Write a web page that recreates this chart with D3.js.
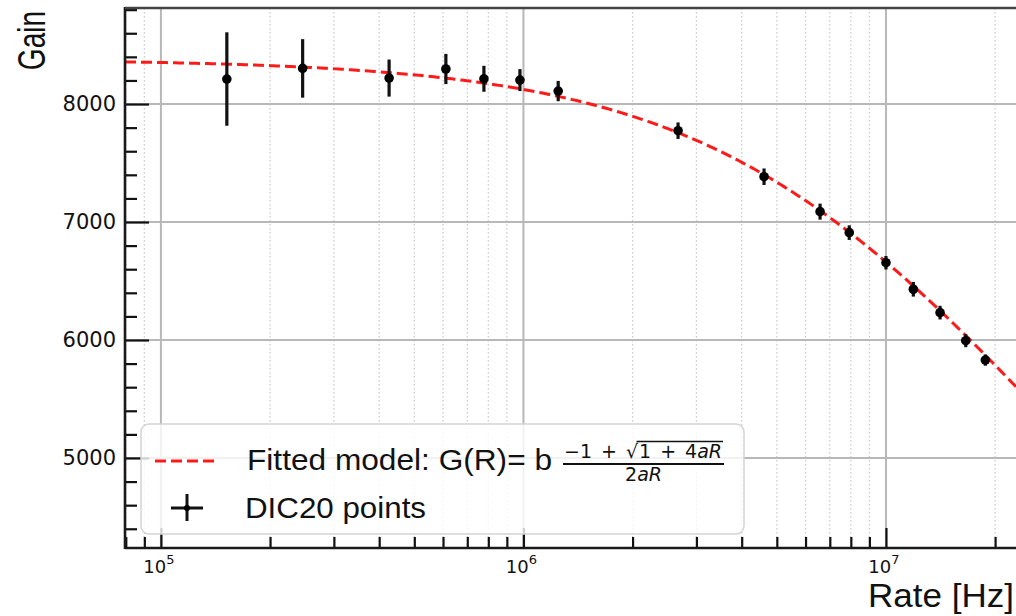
<!DOCTYPE html>
<html lang="en">

<head>
	<meta charset="UTF-8">
	<title>gain vs rate</title>
	<script type="text/javascript" src="https://cdn.jsdelivr.net/npm/d3@7/dist/d3.min.js" charset="UTF-8"></script>
	<style>
		body { margin: 0; background: #fff; }
		svg { display: block; }
	</style>
</head>

<body>
	<script type="text/javascript">
	// DIC20 measured points
	let rates = [1.52e5, 2.46e5, 4.26e5, 6.11e5, 7.78e5, 9.78e5, 1.247e6, 2.67e6, 4.61e6, 6.58e6, 7.92e6, 1.0e7, 1.19e7, 1.41e7, 1.66e7, 1.88e7]
	let gains = [8212, 8302, 8220, 8297, 8214, 8203, 8110, 7774, 7384, 7088, 6910, 6655, 6430, 6232, 5994, 5830]
	let gainErrors = [396, 248, 157, 128, 110, 93, 86, 70, 70, 68, 62, 57, 62, 58, 55, 48]

	// fitted model parameters, G(R) = b (-1 + sqrt(1 + 4aR)) / (2aR)
	let fitA = 3.243e-8
	let fitB = 8379

	let yMajorTicks = [5000, 6000, 7000, 8000]
	let xMajorTicks = [1e5, 1e6, 1e7]
	let xTickExponents = ['5', '6', '7']
	let xDomain = [7.96e4, 2.284e7]
	let yDomain = [4237, 8814]

	let width = 1016,
		height = 616,
		pLeft = 125,
		pTop = 8,
		pRight = 1016,
		pBottom = 548

	let svg = d3.select('body').append('svg')
		.attr('width', width)
		.attr('height', height)

	let x = d3.scaleLog().domain(xDomain).range([pLeft, pRight])
	let y = d3.scaleLinear().domain(yDomain).range([pBottom, pTop])

	let xMinor = x.ticks().filter(v => xMajorTicks.indexOf(v) < 0 && v >= xDomain[0] && v <= xDomain[1])
	let yMinor = d3.range(4400, 8801, 200).filter(v => yMajorTicks.indexOf(v) < 0)

	// grid
	let grid = svg.append('g')
	grid.selectAll('.xminor').data(xMinor).enter().append('line')
		.attr('x1', d => x(d)).attr('x2', d => x(d))
		.attr('y1', pTop).attr('y2', pBottom)
		.attr('stroke', '#c8c8c8').attr('stroke-width', 1.2)
		.attr('stroke-dasharray', '1.5,2.5')
	grid.selectAll('.xmajor').data(xMajorTicks).enter().append('line')
		.attr('x1', d => x(d)).attr('x2', d => x(d))
		.attr('y1', pTop).attr('y2', pBottom)
		.attr('stroke', '#b8b8b8').attr('stroke-width', 2)
	grid.selectAll('.ymajor').data(yMajorTicks).enter().append('line')
		.attr('x1', pLeft).attr('x2', pRight)
		.attr('y1', d => y(d)).attr('y2', d => y(d))
		.attr('stroke', '#b8b8b8').attr('stroke-width', 2)

	// fitted curve
	let model = r => fitB * (-1 + Math.sqrt(1 + 4 * fitA * r)) / (2 * fitA * r)
	let curveRates = d3.range(0, 301).map(i => x.invert(pLeft + i * (pRight - pLeft) / 300))
	let line = d3.line()
		.x(d => x(d))
		.y(d => y(model(d)))

	svg.append('path')
		.attr('d', line(curveRates))
		.attr('fill', 'none')
		.attr('stroke', '#ff1a1a')
		.attr('stroke-width', 3)
		.attr('stroke-dasharray', '11,5')

	// points with error bars
	let pts = svg.append('g').selectAll('g')
		.data(rates.map((r, i) => ({ r: r, g: gains[i], e: gainErrors[i] })))
		.enter().append('g')
	pts.append('line')
		.attr('x1', d => x(d.r)).attr('x2', d => x(d.r))
		.attr('y1', d => y(d.g - d.e)).attr('y2', d => y(d.g + d.e))
		.attr('stroke', '#111').attr('stroke-width', 3.2)
	pts.append('circle')
		.attr('cx', d => x(d.r)).attr('cy', d => y(d.g))
		.attr('r', 4.8)
		.attr('fill', '#000')

	// axes
	let xAxis = svg.append('g')
		.attr('transform', 'translate(0,' + pBottom + ')')
		.call(d3.axisBottom(x).tickValues(xMajorTicks).tickSize(-20).tickFormat(''))
	let xAxisMinor = svg.append('g')
		.attr('transform', 'translate(0,' + pBottom + ')')
		.call(d3.axisBottom(x).tickValues(xMinor).tickSize(-11).tickFormat(''))
	let yAxis = svg.append('g')
		.attr('transform', 'translate(' + pLeft + ',0)')
		.call(d3.axisLeft(y).tickValues(yMajorTicks).tickSize(-24).tickPadding(9).tickFormat(d3.format('d')))
	let yAxisMinor = svg.append('g')
		.attr('transform', 'translate(' + pLeft + ',0)')
		.call(d3.axisLeft(y).tickValues(yMinor).tickSize(-12).tickFormat(''))

	svg.selectAll('.domain').remove()
	svg.selectAll('.tick line').attr('stroke', '#111').attr('stroke-width', 2.2)
	yAxis.selectAll('text')
		.attr('font-family', 'DejaVu Sans')
		.attr('font-size', 21)
		.attr('fill', '#111')

	let xLabels = svg.append('g')
		.selectAll('text')
		.data(xMajorTicks)
		.enter().append('text')
		.attr('x', d => x(d) - 2)
		.attr('y', 573)
		.attr('text-anchor', 'middle')
		.attr('font-family', 'DejaVu Sans')
		.attr('font-size', 18)
		.attr('fill', '#111')
	xLabels.append('tspan').text('10')
	xLabels.append('tspan')
		.attr('dy', -9)
		.attr('font-size', 13)
		.text((d, i) => xTickExponents[i])

	// spines
	svg.append('line').attr('x1', pLeft).attr('x2', pLeft).attr('y1', pTop - 1).attr('y2', pBottom + 1)
		.attr('stroke', '#1a1a1a').attr('stroke-width', 2.6)
	svg.append('line').attr('x1', pLeft).attr('x2', pRight + 2).attr('y1', pBottom).attr('y2', pBottom)
		.attr('stroke', '#1a1a1a').attr('stroke-width', 2.6)
	svg.append('line').attr('x1', pLeft).attr('x2', pRight + 2).attr('y1', pTop).attr('y2', pTop)
		.attr('stroke', '#444').attr('stroke-width', 2.6)

	// axis titles
	svg.append('text')
		.attr('transform', 'translate(45,11) rotate(-90) scale(1,1.36)')
		.attr('text-anchor', 'end')
		.attr('font-family', 'Liberation Sans, Arial, sans-serif')
		.attr('font-size', 28)
		.attr('fill', '#111')
		.text('Gain')
	svg.append('text')
		.attr('x', 1014)
		.attr('y', 607)
		.attr('text-anchor', 'end')
		.attr('font-family', 'Liberation Sans, Arial, sans-serif')
		.attr('font-size', 34)
		.attr('textLength', 146)
		.attr('lengthAdjust', 'spacingAndGlyphs')
		.attr('fill', '#111')
		.text('Rate [Hz]')

	// legend
	let legend = svg.append('g')
	legend.append('rect')
		.attr('x', 141).attr('y', 424)
		.attr('width', 603).attr('height', 110)
		.attr('rx', 8)
		.attr('fill', '#fff').attr('fill-opacity', 0.8)
		.attr('stroke', '#d4d4d4').attr('stroke-width', 1.5)
	legend.append('line')
		.attr('x1', 155).attr('x2', 219)
		.attr('y1', 461).attr('y2', 461)
		.attr('stroke', '#ff1a1a').attr('stroke-width', 3)
		.attr('stroke-dasharray', '11,5')
	legend.append('text')
		.attr('x', 247).attr('y', 470)
		.attr('font-family', 'Liberation Sans, Arial, sans-serif')
		.attr('font-size', 30)
		.attr('textLength', 305)
		.attr('lengthAdjust', 'spacingAndGlyphs')
		.attr('fill', '#111')
		.text('Fitted model: G(R)= b')

	// numerator of the model fraction, operators spaced like mathtext
	let numParts = [
		{ t: '\u22121', dx: 0 },
		{ t: '+', dx: 9 },
		{ t: '\u221a', dx: 9 },
		{ t: '1', dx: 1 },
		{ t: '+', dx: 9 },
		{ t: '4', dx: 9 },
		{ t: 'aR', dx: 0, it: true }
	]
	let num = legend.append('text')
		.attr('x', 564).attr('y', 458)
		.attr('font-family', 'DejaVu Sans')
		.attr('font-size', 19)
		.attr('fill', '#111')
	num.selectAll('tspan').data(numParts).enter().append('tspan')
		.attr('dx', d => d.dx)
		.attr('font-style', d => d.it ? 'italic' : 'normal')
		.text(d => d.t)
	let numBox = num.node().getBBox()
	let numEnd = numBox.x + numBox.width
	let rootBox = num.node().getExtentOfChar(3)
	legend.append('line')
		.attr('x1', rootBox.x + rootBox.width - 1.5).attr('x2', numEnd + 1)
		.attr('y1', rootBox.y + 1.5).attr('y2', rootBox.y + 1.5)
		.attr('stroke', '#111').attr('stroke-width', 1.6)
	legend.append('line')
		.attr('x1', 563).attr('x2', numEnd + 2)
		.attr('y1', 464).attr('y2', 464)
		.attr('stroke', '#111').attr('stroke-width', 2)
	let den = legend.append('text')
		.attr('x', (563 + numEnd + 2) / 2).attr('y', 481)
		.attr('text-anchor', 'middle')
		.attr('font-family', 'DejaVu Sans')
		.attr('font-size', 19)
		.attr('fill', '#111')
	den.append('tspan').text('2')
	den.append('tspan').attr('font-style', 'italic').text('aR')

	legend.append('line')
		.attr('x1', 171).attr('x2', 203)
		.attr('y1', 508).attr('y2', 508)
		.attr('stroke', '#111').attr('stroke-width', 3)
	legend.append('line')
		.attr('x1', 187).attr('x2', 187)
		.attr('y1', 494).attr('y2', 521)
		.attr('stroke', '#111').attr('stroke-width', 3)
	legend.append('circle')
		.attr('cx', 187).attr('cy', 508).attr('r', 3)
		.attr('fill', '#000')
	legend.append('text')
		.attr('x', 245).attr('y', 518)
		.attr('font-family', 'Liberation Sans, Arial, sans-serif')
		.attr('font-size', 30)
		.attr('textLength', 181)
		.attr('lengthAdjust', 'spacingAndGlyphs')
		.attr('fill', '#111')
		.text('DIC20 points')
	</script>
</body>

</html>
